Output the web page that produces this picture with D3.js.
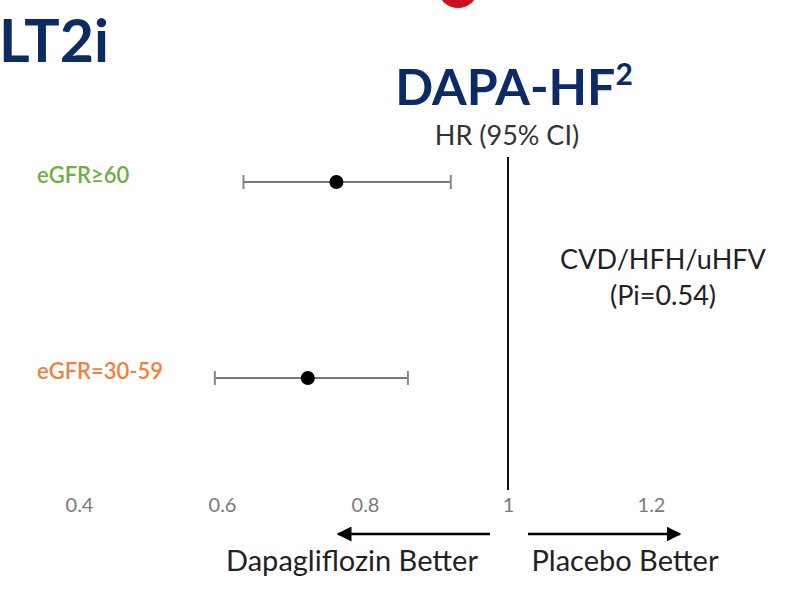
<!DOCTYPE html>
<html>
<head>
<meta charset="utf-8">
<script src="https://cdn.jsdelivr.net/npm/d3@7"></script>
<style>
  html, body { margin: 0; padding: 0; background: #fff; }
  svg { display: block; font-family: Lato, "Open Sans", sans-serif; }
</style>
</head>
<body>
<svg id="chart" width="795" height="592"></svg>
<script>
// ---- data ----
const categories = ["eGFR\u226560", "eGFR=30-59"];
const categoryColors = ["#70ad47", "#f0813a"];
const hr = [0.76, 0.72];
const ciLow = [0.63, 0.59];
const ciHigh = [0.92, 0.86];
const tickValues = [0.4, 0.6, 0.8, 1, 1.2];
const tickLabels = ["0.4", "0.6", "0.8", "1", "1.2"];
const trialTitle = "DAPA-HF";
const trialRef = "2";
const outcomeLines = ["CVD/HFH/uHFV", "(Pi=0.54)"];
const leftLabel = "Dapagliflozin Better";
const rightLabel = "Placebo Better";

const svg = d3.select("#chart");
const navy = "#0c2a66";

// scales
const x = d3.scaleLinear().domain([0.4, 1.2]).range([79, 651]);
const y = d3.scalePoint().domain(categories).range([182, 378]);

// header fragments
svg.append("ellipse").attr("cx", 458).attr("cy", -9).attr("rx", 19).attr("ry", 17).attr("fill", "#c8101e");
svg.append("text").attr("x", -1).attr("y", 62).attr("fill", navy)
  .attr("font-size", 59).attr("font-weight", 700).text("LT2i");

const title = svg.append("text").attr("x", 514).attr("y", 105).attr("text-anchor", "middle")
  .attr("fill", navy).attr("font-weight", 700).attr("font-size", 50);
title.append("tspan").text(trialTitle);
title.append("tspan").attr("font-size", 30).attr("dy", -20).text(trialRef);

svg.append("text").attr("x", 507).attr("y", 145).attr("text-anchor", "middle")
  .attr("fill", "#333").attr("font-size", 27).text("HR (95% CI)");

// reference line at 1
svg.append("line").attr("x1", x(1)).attr("x2", x(1)).attr("y1", 157).attr("y2", 490)
  .attr("stroke", "#111").attr("stroke-width", 2);

// axis (no domain line, tick labels only)
const axis = d3.axisBottom(x).tickValues(tickValues)
  .tickFormat((d, i) => tickLabels[i]).tickSize(0).tickPadding(0);
const gAxis = svg.append("g").attr("transform", "translate(0,498)").call(axis);
gAxis.select(".domain").remove();
gAxis.selectAll("text").attr("fill", "#7a7a7a").attr("font-size", 20)
  .attr("font-family", "Lato, 'Open Sans', sans-serif");

// rows
const rows = categories.map((c, i) => ({ c, hr: hr[i], lo: ciLow[i], hi: ciHigh[i], color: categoryColors[i] }));
const g = svg.append("g");
rows.forEach(r => {
  const yy = y(r.c);
  g.append("line").attr("x1", x(r.lo)).attr("x2", x(r.hi)).attr("y1", yy).attr("y2", yy)
    .attr("stroke", "#777").attr("stroke-width", 2);
  [r.lo, r.hi].forEach(v => {
    g.append("line").attr("x1", x(v)).attr("x2", x(v)).attr("y1", yy - 7).attr("y2", yy + 7)
      .attr("stroke", "#888").attr("stroke-width", 2);
  });
  g.append("circle").attr("cx", x(r.hr)).attr("cy", yy).attr("r", 7).attr("fill", "#000");
  g.append("text").attr("x", 37).attr("y", yy + 1).attr("fill", r.color)
    .attr("font-size", 22).attr("font-weight", 600).text(r.c);
});

// outcome text
outcomeLines.forEach((t, i) => {
  svg.append("text").attr("x", 663).attr("y", 269 + i * 36).attr("text-anchor", "middle")
    .attr("fill", "#222").attr("font-size", 27).text(t);
});

// arrows
const defs = svg.append("defs");
defs.append("marker").attr("id", "ah").attr("viewBox", "0 0 10 10").attr("refX", 9).attr("refY", 5)
  .attr("markerWidth", 6).attr("markerHeight", 6).attr("markerUnits", "strokeWidth").attr("orient", "auto")
  .append("path").attr("d", "M0,0 L10,5 L0,10 Z").attr("fill", "#000");
svg.append("line").attr("x1", 490).attr("x2", 338).attr("y1", 534).attr("y2", 534)
  .attr("stroke", "#000").attr("stroke-width", 2.5).attr("marker-end", "url(#ah)");
svg.append("line").attr("x1", 528).attr("x2", 680).attr("y1", 534).attr("y2", 534)
  .attr("stroke", "#000").attr("stroke-width", 2.5).attr("marker-end", "url(#ah)");

svg.append("text").attr("x", 352).attr("y", 571).attr("text-anchor", "middle")
  .attr("fill", "#222").attr("font-size", 29).text(leftLabel);
svg.append("text").attr("x", 625).attr("y", 571).attr("text-anchor", "middle")
  .attr("fill", "#222").attr("font-size", 29).text(rightLabel);
</script>
</body>
</html>
